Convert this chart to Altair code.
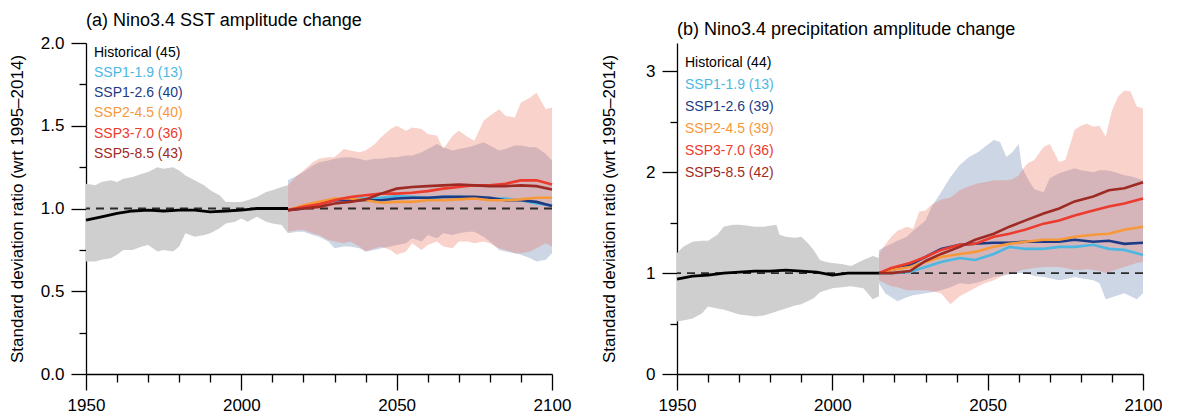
import altair as alt
import pandas as pd

FONT = "Liberation Sans"

SCENARIOS = ["SSP1-1.9", "SSP1-2.6", "SSP2-4.5", "SSP3-7.0", "SSP5-8.5"]
SCEN_COLORS = ["#4cb8e2", "#1d3b85", "#f7993a", "#ec3a2c", "#9e2a24"]
LEGEND_LABELS = ["Historical"] + SCENARIOS
LEGEND_COLORS = ["#000000"] + SCEN_COLORS
GRAY_BAND = "#cfcfcf"
BLUE_BAND = "#cdd6e5"
PINK_BAND = "#e86952"
PINK_OPACITY = 0.3
Y_TITLE = "Standard deviation ratio (wrt 1995\u20132014)"

# ---------------- Panel (a): SST ----------------
A_TITLE = "(a) Nino3.4 SST amplitude change"
A_COUNTS = [45, 13, 40, 40, 36, 43]

A_HIST_YEARS = [1950, 1955, 1960, 1965, 1970, 1975, 1980, 1985, 1990, 1995, 2000, 2005, 2010, 2015]
A_HIST = [0.93, 0.95, 0.97, 0.985, 0.99, 0.985, 0.99, 0.99, 0.98, 0.985, 0.99, 1.0, 1.0, 1.0]

A_GRAY_YEARS = [1950, 1953, 1955, 1958, 1960, 1962, 1965, 1968, 1970, 1973, 1975, 1978, 1980, 1982,
                1985, 1988, 1990, 1993, 1995, 1998, 2000, 2002, 2005, 2008, 2010, 2013, 2015]
A_GRAY_HI = [1.15, 1.14, 1.16, 1.17, 1.16, 1.18, 1.19, 1.21, 1.22, 1.25, 1.24, 1.25, 1.23, 1.20,
             1.17, 1.14, 1.11, 1.08, 1.04, 1.04, 1.04, 1.05, 1.07, 1.10, 1.11, 1.13, 1.14]
A_GRAY_LO = [0.68, 0.68, 0.69, 0.70, 0.72, 0.75, 0.75, 0.77, 0.78, 0.74, 0.75, 0.74, 0.77, 0.85,
             0.83, 0.84, 0.85, 0.88, 0.91, 0.92, 0.94, 0.92, 0.95, 0.92, 0.91, 0.90, 0.85]

A_BAND_YEARS = [2015, 2018, 2020, 2023, 2025, 2028, 2030, 2033, 2035, 2038, 2040, 2043, 2045, 2048,
                2050, 2053, 2055, 2058, 2060, 2063, 2065, 2068, 2070, 2073, 2075, 2078, 2080, 2083,
                2085, 2088, 2090, 2093, 2095, 2098, 2100]
A_BLUE_HI = [1.17, 1.20, 1.22, 1.26, 1.28, 1.29, 1.30, 1.31, 1.31, 1.30, 1.29, 1.30, 1.30, 1.31,
             1.31, 1.32, 1.32, 1.34, 1.36, 1.39, 1.37, 1.35, 1.36, 1.37, 1.38, 1.40, 1.38, 1.35,
             1.36, 1.38, 1.38, 1.37, 1.37, 1.33, 1.29]
A_BLUE_LO = [0.85, 0.86, 0.86, 0.84, 0.83, 0.80, 0.76, 0.77, 0.77, 0.76, 0.74, 0.75, 0.76, 0.77,
             0.78, 0.79, 0.82, 0.80, 0.84, 0.82, 0.85, 0.84, 0.85, 0.86, 0.86, 0.83, 0.80, 0.75,
             0.74, 0.73, 0.72, 0.70, 0.68, 0.69, 0.73]
A_PINK_HI = [1.14, 1.20, 1.23, 1.28, 1.30, 1.31, 1.31, 1.36, 1.35, 1.34, 1.35, 1.39, 1.43, 1.48,
             1.50, 1.47, 1.49, 1.48, 1.45, 1.44, 1.36, 1.44, 1.47, 1.43, 1.41, 1.53, 1.56, 1.60,
             1.56, 1.55, 1.64, 1.67, 1.70, 1.60, 1.61]
A_PINK_LO = [0.86, 0.87, 0.87, 0.85, 0.84, 0.81, 0.80, 0.79, 0.80, 0.77, 0.74, 0.76, 0.77, 0.75,
             0.72, 0.74, 0.79, 0.75, 0.78, 0.80, 0.77, 0.76, 0.80, 0.80, 0.79, 0.80, 0.79, 0.76,
             0.75, 0.73, 0.73, 0.74, 0.76, 0.79, 0.77]

A_LINE_YEARS = [2015, 2020, 2025, 2030, 2035, 2040, 2045, 2050, 2055, 2060, 2065, 2070, 2075, 2080,
                2085, 2090, 2095, 2100]
A_SSP119 = [0.99, 1.01, 1.035, 1.055, 1.06, 1.06, 1.065, 1.075, 1.07, 1.065, 1.07, 1.07, 1.065, 1.06,
            1.06, 1.05, 1.03, 1.02]
A_SSP126 = [0.99, 1.0, 1.03, 1.05, 1.05, 1.05, 1.05, 1.06, 1.065, 1.065, 1.07, 1.07, 1.07, 1.065,
            1.05, 1.05, 1.04, 1.015]
A_SSP245 = [0.99, 1.02, 1.04, 1.06, 1.06, 1.05, 1.035, 1.04, 1.04, 1.05, 1.05, 1.055, 1.06, 1.05,
            1.05, 1.055, 1.065, 1.065]
A_SSP370 = [0.99, 1.01, 1.025, 1.05, 1.07, 1.08, 1.09, 1.09, 1.095, 1.105, 1.12, 1.13, 1.14, 1.14,
            1.15, 1.17, 1.17, 1.145]
A_SSP585 = [0.99, 1.0, 1.01, 1.03, 1.04, 1.055, 1.09, 1.12, 1.13, 1.135, 1.14, 1.145, 1.14, 1.135,
            1.135, 1.14, 1.135, 1.115]

# ---------------- Panel (b): precipitation ----------------
B_TITLE = "(b) Nino3.4 precipitation amplitude change"
B_COUNTS = [44, 13, 39, 39, 36, 42]

B_HIST_YEARS = [1950, 1955, 1960, 1965, 1970, 1975, 1980, 1985, 1990, 1995, 2000, 2005, 2010, 2015]
B_HIST = [0.94, 0.97, 0.98, 1.0, 1.01, 1.02, 1.02, 1.03, 1.02, 1.01, 0.98, 1.0, 1.0, 1.0]

B_GRAY_YEARS = [1950, 1952, 1955, 1958, 1960, 1963, 1965, 1968, 1970, 1973, 1975, 1978, 1980, 1982,
                1983, 1985, 1988, 1990, 1992, 1994, 1996, 1998, 2000, 2003, 2006, 2008, 2010, 2013, 2015]
B_GRAY_HI = [1.20, 1.26, 1.31, 1.32, 1.32, 1.38, 1.46, 1.48, 1.48, 1.47, 1.46, 1.46, 1.47, 1.48,
             1.38, 1.36, 1.35, 1.36, 1.30, 1.23, 1.13, 1.11, 1.10, 1.09, 1.07, 1.10, 1.13, 1.17, 1.15]
B_GRAY_LO = [0.52, 0.53, 0.55, 0.60, 0.67, 0.65, 0.64, 0.61, 0.59, 0.58, 0.57, 0.58, 0.60, 0.62,
             0.63, 0.65, 0.68, 0.69, 0.72, 0.75, 0.81, 0.83, 0.85, 0.86, 0.87, 0.86, 0.85, 0.74, 0.77]

B_BAND_YEARS = [2015, 2017, 2019, 2021, 2024, 2026, 2028, 2030, 2032, 2035, 2038, 2041, 2044, 2047,
                2049, 2052, 2054, 2056, 2058, 2060, 2061, 2063, 2065, 2068, 2070, 2073, 2075, 2078,
                2080, 2082, 2084, 2086, 2088, 2090, 2092, 2094, 2096, 2098, 2100]
B_BLUE_HI = [1.23, 1.26, 1.29, 1.32, 1.36, 1.42, 1.47, 1.52, 1.66, 1.80, 1.95, 2.07, 2.15, 2.20,
             2.25, 2.32, 2.30, 2.15, 2.20, 2.28, 2.05, 1.93, 1.83, 1.80, 1.94, 1.99, 2.01, 2.04,
             2.02, 2.01, 2.00, 2.02, 2.02, 2.01, 1.99, 1.97, 1.96, 1.94, 1.92]
B_BLUE_LO = [0.90, 0.80, 0.76, 0.72, 0.76, 0.78, 0.79, 0.80, 0.81, 0.83, 0.86, 0.90, 0.89, 0.91,
             0.93, 0.96, 0.97, 0.98, 0.99, 1.00, 1.00, 0.99, 0.97, 0.96, 0.95, 0.93, 0.94, 0.96,
             0.95, 0.94, 0.93, 0.90, 0.74, 0.76, 0.78, 0.80, 0.77, 0.74, 0.80]
B_PINK_HI = [1.19, 1.28, 1.36, 1.42, 1.46, 1.44, 1.61, 1.62, 1.68, 1.73, 1.75, 1.82, 1.86, 1.89,
             1.90, 1.92, 1.92, 1.92, 1.93, 1.97, 2.02, 2.09, 2.12, 2.25, 2.28, 2.10, 2.12, 2.42,
             2.46, 2.48, 2.45, 2.46, 2.35, 2.61, 2.75, 2.81, 2.80, 2.65, 2.63]
B_PINK_LO = [0.93, 0.90, 0.87, 0.86, 0.83, 0.83, 0.83, 0.83, 0.82, 0.80, 0.69, 0.77, 0.82, 0.87,
             0.90, 0.93, 0.96, 0.99, 1.00, 1.02, 1.03, 1.04, 1.05, 1.06, 1.06, 1.06, 1.05, 1.03,
             1.03, 1.04, 1.03, 1.02, 1.00, 1.02, 1.04, 1.06, 1.08, 1.10, 1.11]

B_LINE_YEARS = [2015, 2019, 2025, 2030, 2035, 2041, 2046, 2052, 2057, 2062, 2068, 2073, 2078, 2084,
                2089, 2094, 2100]
B_SSP119 = [1.0, 1.0, 1.01, 1.06, 1.11, 1.15, 1.13, 1.19, 1.26, 1.24, 1.24, 1.26, 1.26, 1.28, 1.24, 1.23, 1.18]
B_SSP126 = [1.0, 1.03, 1.08, 1.16, 1.24, 1.28, 1.29, 1.30, 1.30, 1.31, 1.31, 1.31, 1.33, 1.31, 1.32, 1.29, 1.30]
B_SSP245 = [1.0, 1.03, 1.06, 1.11, 1.16, 1.19, 1.21, 1.26, 1.29, 1.31, 1.33, 1.33, 1.36, 1.38, 1.39, 1.43, 1.46]
B_SSP370 = [1.0, 1.05, 1.10, 1.16, 1.23, 1.28, 1.29, 1.36, 1.39, 1.43, 1.49, 1.52, 1.57, 1.62, 1.66, 1.69, 1.74]
B_SSP585 = [1.0, 1.0, 1.02, 1.12, 1.19, 1.26, 1.33, 1.39, 1.46, 1.52, 1.59, 1.64, 1.71, 1.76, 1.82, 1.84, 1.90]

PLOT_W = 466
PLOT_H = 331


def make_panel(title, ydom, yvals, major_test, label_expr, hist_years, hist_vals,
               gray_years, gray_lo, gray_hi, band_years, blue_lo, blue_hi, pink_lo, pink_hi,
               line_years, line_series, counts, legend_y, title_pad):
    xs = alt.Scale(domain=[1950, 2100], nice=False, zero=False)
    ys = alt.Scale(domain=ydom, nice=False, zero=False)
    xaxis = alt.Axis(
        values=list(range(1950, 2101, 10)), format="d",
        labelExpr="datum.value % 50 === 0 ? datum.label : ''",
        tickSize={"condition": {"test": "datum.value % 50 === 0", "value": 16}, "value": 8},
        labelPadding=7, labelFontSize=17, labelColor="black", labelFont=FONT,
        domainColor="black", domainWidth=1.3, tickColor="black", tickWidth=1.3,
        grid=False, title=None, labelOverlap=False, labelFlush=False,
    )
    yaxis = alt.Axis(
        values=yvals, labelExpr=label_expr,
        tickSize={"condition": {"test": major_test, "value": 15}, "value": 7},
        labelPadding=7, labelFontSize=17, labelColor="black", labelFont=FONT,
        domainColor="black", domainWidth=1.3, tickColor="black", tickWidth=1.3,
        grid=False, title=Y_TITLE, titleFontSize=17, titleFont=FONT, titleFontWeight="normal",
        titleColor="black", titlePadding=title_pad, labelOverlap=False, labelFlush=False,
    )
    X = alt.X("year:Q", scale=xs, axis=xaxis)
    Y = alt.Y("y:Q", scale=ys, axis=yaxis)

    gray_df = pd.DataFrame({"year": gray_years, "y": gray_lo, "y2": gray_hi})
    blue_df = pd.DataFrame({"year": band_years, "y": blue_lo, "y2": blue_hi})
    pink_df = pd.DataFrame({"year": band_years, "y": pink_lo, "y2": pink_hi})
    hist_df = pd.DataFrame({"year": hist_years, "y": hist_vals})
    rows = []
    for name, vals in zip(SCENARIOS, line_series):
        for yr, v in zip(line_years, vals):
            rows.append({"year": yr, "y": v, "scenario": name})
    lines_df = pd.DataFrame(rows)
    ref_df = pd.DataFrame({"y": [1.0]})

    gray = alt.Chart(gray_df).mark_area(color=GRAY_BAND).encode(x=X, y=Y, y2="y2:Q")
    blue = alt.Chart(blue_df).mark_area(color=BLUE_BAND).encode(x=X, y=Y, y2="y2:Q")
    pink = alt.Chart(pink_df).mark_area(color=PINK_BAND, opacity=PINK_OPACITY).encode(x=X, y=Y, y2="y2:Q")
    ref = alt.Chart(ref_df).mark_rule(color="#2b2b2b", strokeDash=[8, 6], strokeWidth=1.9).encode(y=Y)
    lines = alt.Chart(lines_df).mark_line(strokeWidth=2.6).encode(
        x=X, y=Y,
        color=alt.Color("scenario:N", scale=alt.Scale(domain=SCENARIOS, range=SCEN_COLORS), legend=None),
    )
    hist = alt.Chart(hist_df).mark_line(color="black", strokeWidth=2.8).encode(x=X, y=Y)

    texts = []
    for lab, col, cnt, ly in zip(LEGEND_LABELS, LEGEND_COLORS, counts, legend_y):
        texts.append(
            alt.Chart(pd.DataFrame({"t": [f"{lab} ({cnt})"]})).mark_text(
                align="left", baseline="middle", fontSize=14, font=FONT, color=col
            ).encode(text="t:N", x=alt.value(8), y=alt.value(ly))
        )

    return alt.layer(gray, blue, pink, ref, lines, hist, *texts).properties(
        width=PLOT_W, height=PLOT_H,
        title=alt.TitleParams(text=title, anchor="start", frame="group", fontSize=18,
                              fontWeight="normal", font=FONT, color="black", offset=4),
    )


panel_a = make_panel(
    A_TITLE, [0, 2], [i * 0.25 for i in range(9)], "datum.value % 0.5 === 0",
    "datum.value % 0.5 === 0 ? format(datum.value, '.1f') : ''",
    A_HIST_YEARS, A_HIST, A_GRAY_YEARS, A_GRAY_LO, A_GRAY_HI,
    A_BAND_YEARS, A_BLUE_LO, A_BLUE_HI, A_PINK_LO, A_PINK_HI,
    A_LINE_YEARS, [A_SSP119, A_SSP126, A_SSP245, A_SSP370, A_SSP585],
    A_COUNTS, [10, 30, 50, 70, 91, 111], 14,
)
panel_b = make_panel(
    B_TITLE, [0, 3.28], [i * 0.5 for i in range(7)], "datum.value % 1 === 0",
    "datum.value % 1 === 0 ? format(datum.value, 'd') : ''",
    B_HIST_YEARS, B_HIST, B_GRAY_YEARS, B_GRAY_LO, B_GRAY_HI,
    B_BAND_YEARS, B_BLUE_LO, B_BLUE_HI, B_PINK_LO, B_PINK_HI,
    B_LINE_YEARS, [B_SSP119, B_SSP126, B_SSP245, B_SSP370, B_SSP585],
    B_COUNTS, [20, 42, 64, 86, 108, 130], 27,
)

chart = alt.hconcat(panel_a, panel_b, spacing=125, bounds="flush").properties(
    padding={"left": 0, "top": 4, "right": 0, "bottom": 0}
).configure(font=FONT).configure_view(stroke=None)

chart.save("out.html", embed_options={"renderer": "svg", "actions": False})
